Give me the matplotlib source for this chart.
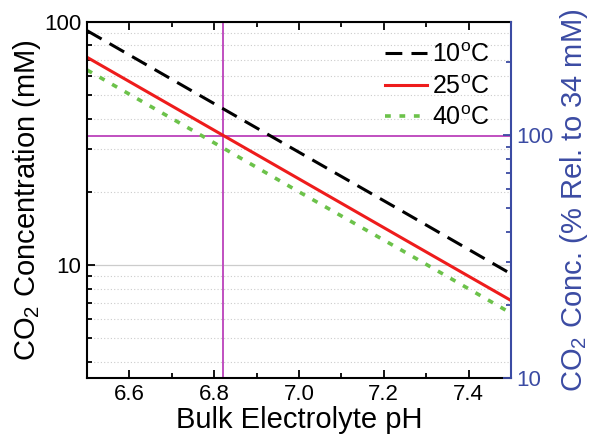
import numpy as np
import matplotlib
matplotlib.use("Agg")
import matplotlib.pyplot as plt
from matplotlib.ticker import LogLocator, NullFormatter, FixedLocator, MultipleLocator

plt.rcParams['font.family'] = ['Liberation Sans', 'DejaVu Sans']
plt.rcParams['mathtext.fontset'] = 'custom'
plt.rcParams['mathtext.rm'] = 'Liberation Sans'

# values
ph = [6.5, 6.75, 7.0, 7.25, 7.5]
co2_10C = [92.0, 51.7, 29.1, 16.4, 9.2]
co2_25C = [71.5, 40.2, 22.6, 12.7, 7.15]
co2_40C = [63.4, 35.7, 20.0, 11.3, 6.34]
ref_conc = 34.0
ref_ph = 6.82

blue = '#3b4ba3'
magenta = '#c04fc0'

fig = plt.figure(figsize=(5.92, 4.37), dpi=100)
ax = fig.add_axes([0.147, 0.135, 0.716, 0.815])

ax.plot(ph, co2_10C, color='black', ls=(0, (5.5, 3)), lw=2.2, label='10$^{\\rm o}$C')
ax.plot(ph, co2_25C, color='#ee1c1c', ls='-', lw=2.2, label='25$^{\\rm o}$C')
ax.plot(ph, co2_40C, color='#6cc24a', ls=(0, (1.6, 2.4)), lw=2.6, label='40$^{\\rm o}$C')
ax.axhline(ref_conc, color=magenta, lw=1.4, zorder=1)
ax.axvline(ref_ph, color=magenta, lw=1.4, zorder=1)

ax.set_yscale('log')
ax.set_xlim(6.5, 7.5)
ax.set_ylim(3.43, 100)
ax.xaxis.set_major_locator(FixedLocator([6.6, 6.8, 7.0, 7.2, 7.4]))
ax.xaxis.set_minor_locator(MultipleLocator(0.1))
ax.yaxis.set_minor_locator(LogLocator(base=10, subs=np.arange(2, 10)))
ax.yaxis.set_minor_formatter(NullFormatter())
ax.set_yticks([10, 100])
ax.set_yticklabels(['10', '100'])

ax.grid(True, which='major', axis='y', color='#cccccc', lw=0.9)
ax.grid(True, which='minor', axis='y', color='#cccccc', lw=0.8, ls=(0, (1, 2)))
ax.set_axisbelow(True)

ax.tick_params(which='both', direction='in', top=True, right=False, labelsize=16, width=1.3)
ax.tick_params(which='major', length=6, pad=4)
ax.tick_params(which='minor', length=3.5)
for s in ['left', 'bottom', 'top']:
    ax.spines[s].set_linewidth(1.5)
ax.spines['right'].set_visible(False)

ax.set_xlabel('Bulk Electrolyte pH', fontsize=21, labelpad=1)
ax.set_ylabel('CO$_2$ Concentration (mM)', fontsize=21, labelpad=1)

ax2 = ax.twinx()
ax2.set_yscale('log')
ax2.set_ylim(3.43 * 100 / ref_conc, 100 * 100 / ref_conc)
ax2.set_yticks([10, 100])
ax2.set_yticklabels(['10', '100'])
ax2.yaxis.set_minor_locator(LogLocator(base=10, subs=np.arange(2, 10)))
ax2.yaxis.set_minor_formatter(NullFormatter())
ax2.tick_params(which='both', direction='in', colors=blue, labelsize=16, width=1.3)
ax2.tick_params(which='major', length=6, pad=4)
ax2.tick_params(which='minor', length=3.5)
ax2.spines['right'].set_color(blue)
ax2.spines['right'].set_linewidth(1.5)
for s in ['left', 'bottom', 'top']:
    ax2.spines[s].set_visible(False)
ax2.set_ylabel('CO$_2$ Conc. (% Rel. to 34 mM)', fontsize=21, color=blue, labelpad=3)

leg = ax.legend(loc='upper right', frameon=False, fontsize=18, handlelength=1.7,
                handletextpad=0.2, labelspacing=0.3, borderaxespad=0.45)

fig.savefig('out.png', dpi=100)
